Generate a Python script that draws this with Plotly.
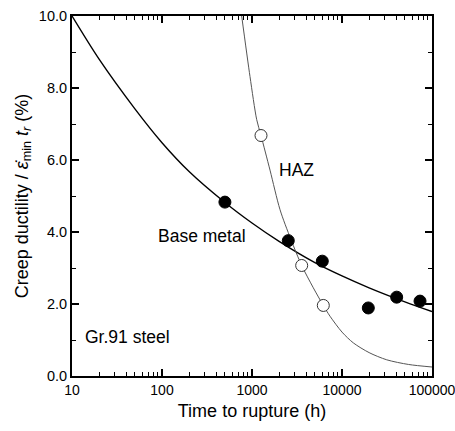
import plotly.graph_objects as go

# Measured data: base metal (filled) and HAZ (open)
base_t = [500, 2530, 6040, 19600, 40500, 73600]
base_y = [4.83, 3.76, 3.19, 1.89, 2.19, 2.08]
haz_t = [1259, 3565, 6200]
haz_y = [6.68, 3.07, 1.96]

# Fitted curves
base_curve_t = [10, 20, 50, 100, 200, 500, 1000, 2000, 5000, 10000, 20000, 50000, 100000]
base_curve_y = [10.0, 8.80, 7.42, 6.48, 5.68, 4.82, 4.25, 3.74, 3.15, 2.78, 2.45, 2.06, 1.79]
haz_curve_t = [768, 950, 1128, 1259, 1585, 2048, 2700, 3565, 4800, 6200, 7360, 10000, 13360, 20000, 31400, 55000, 100000]
haz_curve_y = [10.0, 8.32, 7.12, 6.68, 5.72, 4.62, 3.80, 3.07, 2.45, 1.96, 1.66, 1.22, 0.92, 0.65, 0.45, 0.32, 0.25]

x_ticks = [10, 100, 1000, 10000, 100000]
x_ticktext = ["10", "100", "1000", "10000", "100000"]
x_minor = [m * d for d in [10, 100, 1000, 10000] for m in range(2, 10)]
y_ticks = [0, 2, 4, 6, 8, 10]
y_ticktext = ["0.0", "2.0", "4.0", "6.0", "8.0", "10.0"]
y_minor = [1, 3, 5, 7, 9]

FONT = "Liberation Sans, Arial, sans-serif"

fig = go.Figure()
fig.add_trace(go.Scatter(x=base_curve_t, y=base_curve_y, mode="lines",
                         line=dict(color="black", width=1.4, shape="spline", smoothing=0.8),
                         showlegend=False, hoverinfo="skip"))
fig.add_trace(go.Scatter(x=haz_curve_t, y=haz_curve_y, mode="lines",
                         line=dict(color="#555555", width=1, shape="spline", smoothing=0.8),
                         showlegend=False, hoverinfo="skip"))
fig.add_trace(go.Scatter(x=base_t, y=base_y, mode="markers",
                         marker=dict(color="black", size=12, line=dict(color="black", width=1)),
                         showlegend=False))
fig.add_trace(go.Scatter(x=haz_t, y=haz_y, mode="markers",
                         marker=dict(color="white", size=12, line=dict(color="#333333", width=1)),
                         showlegend=False))

fig.add_annotation(x=2.44, y=3.88, xref="x", yref="y", text="Base metal", showarrow=False,
                   font=dict(size=17.5, color="black", family=FONT))
fig.add_annotation(x=3.494, y=5.71, xref="x", yref="y", text="HAZ", showarrow=False,
                   font=dict(size=17.5, color="black", family=FONT))
fig.add_annotation(x=1.62, y=1.07, xref="x", yref="y", text="Gr.91 steel", showarrow=False,
                   font=dict(size=17.5, color="black", family=FONT))

fig.update_xaxes(type="log", range=[1, 5.00001], tickmode="array", tickvals=x_ticks, ticktext=x_ticktext,
                 ticks="inside", ticklen=7, tickwidth=1.5, tickcolor="black", ticklabeloverflow="allow",
                 automargin=False,
                 minor=dict(ticks="inside", ticklen=4, tickwidth=1, tickcolor="black", tickvals=x_minor, showgrid=False),
                 showline=True, linecolor="black", linewidth=2, mirror="ticks", showgrid=False, zeroline=False,
                 tickfont=dict(size=14, color="black", family=FONT),
                 title=dict(text="Time to rupture (h)", font=dict(size=18, color="black", family=FONT), standoff=8))
fig.update_yaxes(range=[0, 10], tickmode="array", tickvals=y_ticks, ticktext=y_ticktext,
                 ticks="inside", ticklen=7, tickwidth=1.5, tickcolor="black", ticklabeloverflow="allow",
                 automargin=False,
                 minor=dict(ticks="inside", ticklen=4, tickwidth=1, tickcolor="black", tickvals=y_minor, showgrid=False),
                 showline=True, linecolor="black", linewidth=2, mirror="ticks", showgrid=False, zeroline=False,
                 tickfont=dict(size=14.5, color="black", family=FONT),
                 title=dict(text="Creep ductility / <i>\u03b5\u0307</i><sub>min</sub> <i>t<sub>r</sub></i> (%)",
                            font=dict(size=18, color="black", family=FONT), standoff=6))

fig.update_layout(width=455, height=431, margin=dict(l=72, r=23, t=16, b=55, autoexpand=False),
                  plot_bgcolor="white", paper_bgcolor="white", showlegend=False)

fig.write_html("out.html")
